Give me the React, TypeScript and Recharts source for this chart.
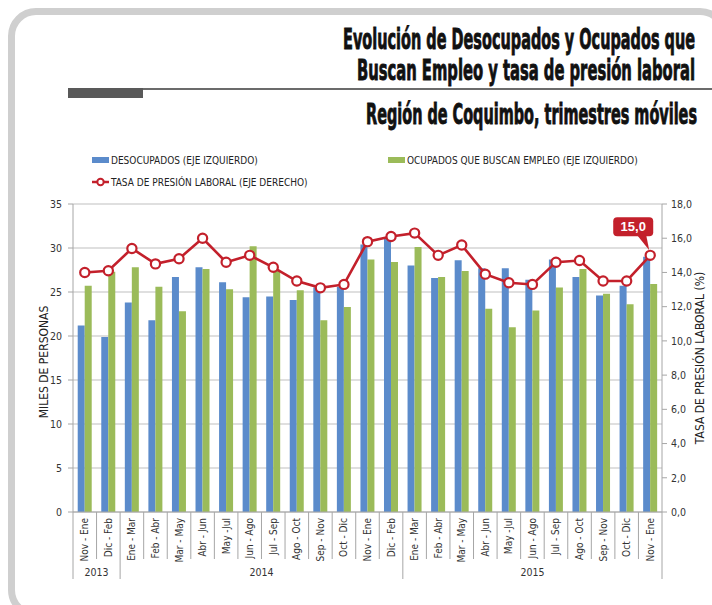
import React from 'react';
import {
  ComposedChart, Bar, Line, XAxis, YAxis, CartesianGrid, Legend, LabelList,
} from 'recharts';

const categories = [
  'Nov - Ene', 'Dic - Feb', 'Ene - Mar', 'Feb - Abr', 'Mar - May', 'Abr - Jun', 'May -Jul',
  'Jun - Ago', 'Jul - Sep', 'Ago - Oct', 'Sep - Nov', 'Oct - Dic', 'Nov - Ene', 'Dic - Feb',
  'Ene - Mar', 'Feb - Abr', 'Mar - May', 'Abr - Jun', 'May -Jul', 'Jun - Ago', 'Jul - Sep',
  'Ago - Oct', 'Sep - Nov', 'Oct - Dic', 'Nov - Ene',
];
const years = [
  '2013', '2013',
  '2014', '2014', '2014', '2014', '2014', '2014', '2014', '2014', '2014', '2014', '2014', '2014',
  '2015', '2015', '2015', '2015', '2015', '2015', '2015', '2015', '2015', '2015', '2015',
];
// miles de personas
const desocupados = [21.2, 19.9, 23.8, 21.8, 26.7, 27.8, 26.1, 24.4, 24.5, 24.1, 25.5, 25.6, 30.4, 31.1, 28.0, 26.6, 28.6, 27.7, 27.7, 26.4, 28.7, 26.7, 24.6, 25.7, 29.0];
const ocupadosBuscan = [25.7, 27.3, 27.8, 25.6, 22.8, 27.6, 25.3, 30.2, 27.4, 25.2, 21.8, 23.3, 28.7, 28.4, 30.1, 26.7, 27.4, 23.1, 21.0, 22.9, 25.5, 27.6, 24.8, 23.6, 25.9];
// porcentaje
const tasaPresion = [14.0, 14.1, 15.4, 14.5, 14.8, 16.0, 14.6, 15.0, 14.3, 13.5, 13.1, 13.3, 15.8, 16.1, 16.3, 15.0, 15.6, 13.9, 13.4, 13.3, 14.6, 14.7, 13.5, 13.5, 15.0];

const leftTicks = [0, 5, 10, 15, 20, 25, 30, 35];
const rightTicks = [0, 2, 4, 6, 8, 10, 12, 14, 16, 18];

const titleLines = [
  'Evolución de Desocupados y Ocupados que',
  'Buscan Empleo y tasa de presión laboral',
];
const subtitle = 'Región de Coquimbo, trimestres móviles';

const BLUE = '#5B8BCB';
const GREEN = '#9BBB59';
const RED = '#C3202B';
const NARROW = "'Liberation Sans Narrow', 'Arial Narrow', 'DejaVu Sans Condensed', sans-serif";

const data = categories.map((c, i) => ({
  periodo: c,
  year: years[i],
  desocupados: desocupados[i],
  ocupados: ocupadosBuscan[i],
  tasa: tasaPresion[i],
}));

const groups: { year: string; start: number; end: number }[] = [];
years.forEach((y, i) => {
  const g = groups[groups.length - 1];
  if (g && g.year === y) g.end = i;
  else groups.push({ year: y, start: i, end: i });
});

const fmt = (v: number) => v.toFixed(1).replace('.', ',');

const XTick = (props: any) => {
  const { x, y, payload, index } = props;
  const band = (props.width || 589) / categories.length;
  const left = x - band / 2;
  const group = groups.find((g) => g.start === index);
  const last = index === categories.length - 1;
  return (
    <g>
      <line x1={left} y1={y} x2={left} y2={y + (group ? 67 : 47)} stroke="#A6A6A6" />
      {last && <line x1={left + band} y1={y} x2={left + band} y2={y + 67} stroke="#A6A6A6" />}
      <text
        x={x}
        y={y + 6}
        transform={`rotate(-90, ${x}, ${y + 6})`}
        textAnchor="end"
        dy="0.35em"
        fontSize={10}
        fontFamily={NARROW}
        fill="#333"
      >
        {payload.value}
      </text>
      {group && (
        <text
          x={left + ((group.end - group.start + 1) * band) / 2}
          y={y + 60}
          textAnchor="middle"
          dy="0.35em"
          fontSize={10.5}
          fontFamily={NARROW}
          fill="#333"
        >
          {group.year}
        </text>
      )}
    </g>
  );
};

const Callout = (props: any) => {
  const { x, y, value, index } = props;
  if (index !== categories.length - 1) return null;
  const cx = x - 17;
  const bottom = y - 19;
  return (
    <g>
      <rect x={cx - 20} y={bottom - 19} width={40} height={19} rx={4} fill={RED} />
      <path d={`M${x - 13},${bottom - 1} L${x - 4},${bottom - 1} L${x - 1},${y - 5} Z`} fill={RED} />
      <text x={cx} y={bottom - 9.5} dy="0.35em" textAnchor="middle" fill="#fff" fontSize={13} fontWeight="bold" fontFamily="'Liberation Sans', Arial, sans-serif">
        {fmt(value)}
      </text>
    </g>
  );
};

const legendPos: Record<string, { left: number; top: number }> = {
  desocupados: { left: 92, top: 0 },
  ocupados: { left: 388, top: 0 },
  tasa: { left: 92, top: 22 },
};

const LegendContent = (props: any) => {
  const { payload = [] } = props;
  return (
    <div style={{ position: 'relative', height: 40 }}>
      {payload.map((p: any) => {
        const pos = legendPos[p.dataKey] || { left: 0, top: 0 };
        const isLine = p.dataKey === 'tasa';
        return (
          <div key={p.dataKey} style={{ position: 'absolute', left: pos.left, top: pos.top, display: 'flex', alignItems: 'center', height: 12, whiteSpace: 'nowrap' }}>
            <svg width={17} height={12} style={{ display: 'block' }}>
              {isLine ? (
                <>
                  <line x1={0} y1={6} x2={17} y2={6} stroke={RED} strokeWidth={2.5} />
                  <circle cx={8.5} cy={6} r={3.2} fill="#fff" stroke={RED} strokeWidth={2} />
                </>
              ) : (
                <rect x={0} y={3} width={17} height={6} fill={p.color} />
              )}
            </svg>
            <span style={{ marginLeft: 2, fontSize: 10, fontFamily: NARROW, color: '#222' }}>{p.value}</span>
          </div>
        );
      })}
    </div>
  );
};

const TitleText = ({ x, y, len, children }: { x: number; y: number; len: number; children: string }) => (
  <text
    transform={`translate(${x}, ${y}) scale(1, 1.75)`}
    x={0}
    y={0}
    textAnchor="end"
    fontSize={16}
    fontWeight="bold"
    fontFamily="'DejaVu Sans Condensed', 'Liberation Sans Narrow', sans-serif"
    fill="#111"
    stroke="#111"
    strokeWidth={0.5}
    textLength={len}
    lengthAdjust="spacingAndGlyphs"
  >
    {children}
  </text>
);

export default function App() {
  return (
    <div style={{ position: 'absolute', left: 0, top: 0, width: 712, height: 605, overflow: 'hidden', background: '#fff' }}>
      <div style={{ position: 'absolute', left: 8, top: 8, width: 720, height: 610, border: '7px solid #CFCFCF', borderRadius: 28, boxSizing: 'border-box' }} />
      <svg width={712} height={140} style={{ position: 'absolute', left: 0, top: 0 }}>
        <rect x={68} y={88} width={75} height={10} fill="#595959" />
        <rect x={143} y={88} width={569} height={2} fill="#6B6B6B" />
        <TitleText x={695} y={49} len={352}>{titleLines[0]}</TitleText>
        <TitleText x={695} y={80} len={338}>{titleLines[1]}</TitleText>
        <TitleText x={697} y={124} len={331}>{subtitle}</TitleText>
      </svg>
      <div style={{ position: 'absolute', left: 0, top: 0 }}>
        <ComposedChart
          width={712}
          height={605}
          data={data}
          margin={{ top: 204, right: 5, bottom: 23, left: 33 }}
          barCategoryGap="20%"
          barGap={0}
        >
          <CartesianGrid yAxisId="left" horizontal vertical={false} stroke="#BFBFBF" />
          <XAxis
            dataKey="periodo"
            interval={0}
            height={70}
            tickLine={false}
            tickSize={0}
            tickMargin={0}
            axisLine={{ stroke: '#A6A6A6' }}
            tick={<XTick />}
          />
          <YAxis
            yAxisId="left"
            width={40}
            domain={[0, 35]}
            ticks={leftTicks}
            interval={0}
            tickSize={5}
            tickMargin={6}
            axisLine={{ stroke: '#A6A6A6' }}
            tickLine={{ stroke: '#A6A6A6' }}
            tick={{ fontSize: 10.5, fill: '#333', fontFamily: NARROW }}
            label={(p: any) => {
              const vb = p.viewBox || { x: 33, y: 204, width: 40, height: 308 };
              const lx = vb.x + 11;
              const ly = vb.y + vb.height / 2 + 4;
              return (
                <text x={lx} y={ly} transform={`rotate(-90, ${lx}, ${ly})`} textAnchor="middle" dy="0.35em" fontSize={12} fontFamily={NARROW} fill="#222">
                  MILES DE PERSONAS
                </text>
              );
            }}
          />
          <YAxis
            yAxisId="right"
            orientation="right"
            width={45}
            domain={[0, 18]}
            ticks={rightTicks}
            interval={0}
            tickSize={5}
            tickMargin={4}
            tickFormatter={fmt}
            axisLine={{ stroke: '#A6A6A6' }}
            tickLine={{ stroke: '#A6A6A6' }}
            tick={{ fontSize: 10.5, fill: '#333', fontFamily: NARROW }}
            label={(p: any) => {
              const vb = p.viewBox || { x: 662, y: 204, width: 45, height: 308 };
              const lx = vb.x + 38;
              const ly = vb.y + vb.height / 2;
              return (
                <text x={lx} y={ly} transform={`rotate(-90, ${lx}, ${ly})`} textAnchor="middle" dy="0.35em" fontSize={12} fontFamily={NARROW} fill="#222">
                  TASA DE PRESIÓN LABORAL (%)
                </text>
              );
            }}
          />
          <Legend
            layout="horizontal"
            verticalAlign="middle"
            align="center"
            wrapperStyle={{ top: 154, left: 0, width: 712 }}
            content={<LegendContent />}
          />
          <Bar yAxisId="left" dataKey="desocupados" name="DESOCUPADOS (EJE IZQUIERDO)" fill={BLUE} isAnimationActive={false} />
          <Bar yAxisId="left" dataKey="ocupados" name="OCUPADOS QUE BUSCAN EMPLEO (EJE IZQUIERDO)" fill={GREEN} isAnimationActive={false} />
          <Line
            yAxisId="right"
            dataKey="tasa"
            name="TASA DE PRESIÓN LABORAL (EJE DERECHO)"
            type="linear"
            stroke={RED}
            strokeWidth={2.6}
            dot={{ r: 4.6, fill: '#fff', stroke: RED, strokeWidth: 2.2 }}
            activeDot={false}
            isAnimationActive={false}
          >
            <LabelList dataKey="tasa" content={<Callout />} />
          </Line>
        </ComposedChart>
      </div>
    </div>
  );
}
